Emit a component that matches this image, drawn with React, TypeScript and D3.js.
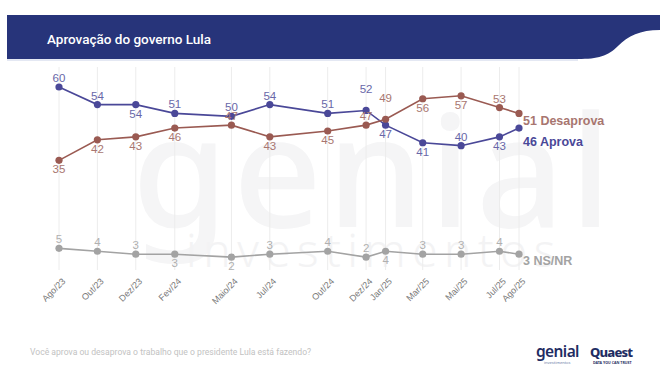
import * as d3 from 'd3';

// survey months (first of month)
const months = [
  '2023-08', '2023-10', '2023-12', '2024-02', '2024-05', '2024-07', '2024-10',
  '2024-12', '2025-01', '2025-03', '2025-05', '2025-07', '2025-08',
];
const monthLabels = [
  'Ago/23', 'Out/23', 'Dez/23', 'Fev/24', 'Maio/24', 'Jul/24', 'Out/24',
  'Dez/24', 'Jan/25', 'Mar/25', 'Mai/25', 'Jul/25', 'Ago/25',
];

const aprova = [60, 54, 54, 51, 50, 54, 51, 52, 47, 41, 40, 43, 46];
const desaprova = [35, 42, 43, 46, 47, 43, 45, 47, 49, 56, 57, 53, 51];
const nsnr = [5, 4, 3, 3, 2, 3, 4, 2, 4, 3, 3, 4, 3];

// label placement: 'a' above, 'A' far above, 'b' below, '' none (last point uses end label)
const aprovaPos = ['a', 'a', 'b', 'a', 'a', 'a', 'a', 'A', 'b', 'b', 'a', 'b', ''];
const desaprovaPos = ['b', 'b', 'b', 'b', 'a', 'b', 'b', 'a', 'A', 'b', 'b', 'a', ''];
const nsPos = ['a', 'a', 'a', 'b', 'b', 'a', 'a', 'a', 'b', 'a', 'a', 'a', ''];

const W = 660;
const H = 385;

const C_APROVA = '#4a4898';
const C_APROVA_TXT = '#6867a8';
const C_DESAP = '#9a5a52';
const C_DESAP_TXT = '#a87670';
const C_NS = '#a3a3a3';
const C_NS_TXT = '#b0b0b0';

const App = () => {
  const dates = months.map(m => d3.timeParse('%Y-%m')(m) as Date);

  const x = d3.scaleTime()
    .domain([dates[0], dates[dates.length - 1]])
    .range([59, 519]);

  const y = d3.scaleLinear().domain([0, 60]).range([263, 87]);

  const line = d3.line<number>()
    .x((_, i) => x(dates[i]))
    .y(d => y(d));

  const labelY = (v: number, pos: string) => {
    if (pos === 'a') return y(v) - 5;
    if (pos === 'A') return y(v) - 17;
    return y(v) + 13;
  };

  const series = [
    { values: aprova, pos: aprovaPos, color: C_APROVA, txt: C_APROVA_TXT },
    { values: desaprova, pos: desaprovaPos, color: C_DESAP, txt: C_DESAP_TXT },
    { values: nsnr, pos: nsPos, color: C_NS, txt: C_NS_TXT },
  ];

  const last = dates.length - 1;
  const xEnd = x(dates[last]) + 4;

  return (
    <svg width={W} height={H} style={{ position: 'absolute', left: 0, top: 0, background: '#fff' }}>
      {/* header band */}
      <path
        d="M7,15 H660 V30 C 640,30 628,36 618,46 C 608,56 598,59 578,59 H7 Z"
        fill="#27347a"
      />
      <path d="M7,60 H578" stroke="#e4e8f3" strokeWidth={2} />
      <text x={47} y={44} fill="#fff" fontFamily="Roboto, sans-serif" fontWeight={500} fontSize={13.5}>
        Aprovação do governo Lula
      </text>

      {/* watermark */}
      <g aria-hidden="true">
        <text x={132} y={227} fill="#f5f5f6" fontFamily="'Noto Sans', sans-serif" fontWeight={500} fontSize={155} letterSpacing={5}>
          genial
        </text>
        <text x={186} y={267} fill="#f3f3f4" fontFamily="'Noto Sans', sans-serif" fontWeight={300} fontSize={46} letterSpacing={6.5}>
          investimentos
        </text>
      </g>

      {/* vertical gridlines */}
      {dates.map((d, i) => (
        <line key={i} x1={x(d)} x2={x(d)} y1={67} y2={270} stroke="#ececec" strokeWidth={1} />
      ))}

      {/* lines + points */}
      {series.map((s, si) => (
        <g key={si}>
          <path d={line(s.values) || ''} fill="none" stroke={s.color} strokeWidth={1.6} />
          {s.values.map((v, i) => (
            <circle key={i} cx={x(dates[i])} cy={y(v)} r={3.6} fill={s.color} />
          ))}
          {s.values.map((v, i) =>
            s.pos[i] ? (
              <text
                key={'t' + i}
                x={x(dates[i])}
                y={labelY(v, s.pos[i])}
                textAnchor="middle"
                fill={s.txt}
                fontFamily="'Liberation Sans', Arial, sans-serif"
                fontSize={11.5}
              >
                {v}
              </text>
            ) : null
          )}
        </g>
      ))}

      {/* end labels */}
      <g fontFamily="'Liberation Sans', Arial, sans-serif" fontWeight={700} fontSize={12.5}>
        <text x={xEnd} y={y(desaprova[last]) + 12} fill={C_DESAP_TXT}>
          {desaprova[last]} Desaprova
        </text>
        <text x={xEnd} y={y(aprova[last]) + 18} fill={C_APROVA}>
          {aprova[last]} Aprova
        </text>
        <text x={xEnd} y={y(nsnr[last]) + 11} fill={C_NS}>
          {nsnr[last]} NS/NR
        </text>
      </g>

      {/* x axis labels */}
      {dates.map((d, i) => (
        <text
          key={i}
          transform={`translate(${x(d) + 7},${282}) rotate(-45)`}
          textAnchor="end"
          fill="#777"
          fontFamily="'Liberation Sans', Arial, sans-serif"
          fontSize={9}
        >
          {monthLabels[i]}
        </text>
      ))}

      {/* footer */}
      <text x={30} y={355} fill="#c2c2c2" fontFamily="Roboto, sans-serif" fontSize={8.6}>
        Você aprova ou desaprova o trabalho que o presidente Lula está fazendo?
      </text>
      <g fontFamily="'Noto Sans', sans-serif">
        <text x={536} y={357} fill="#1f2d63" fontWeight={600} fontSize={15.5} letterSpacing={-0.6}>
          genial
        </text>
        <text x={544} y={364} fill="#6a7aa5" fontSize={4}>investimentos</text>
        <text x={590} y={357} fill="#1f2d63" fontWeight={800} fontSize={13} letterSpacing={-0.8}>
          Quaest
        </text>
        <text x={593} y={364} fill="#1f2d63" fontSize={3.6} fontWeight={700}>DATA YOU CAN TRUST</text>
      </g>
    </svg>
  );
};

export default App;
